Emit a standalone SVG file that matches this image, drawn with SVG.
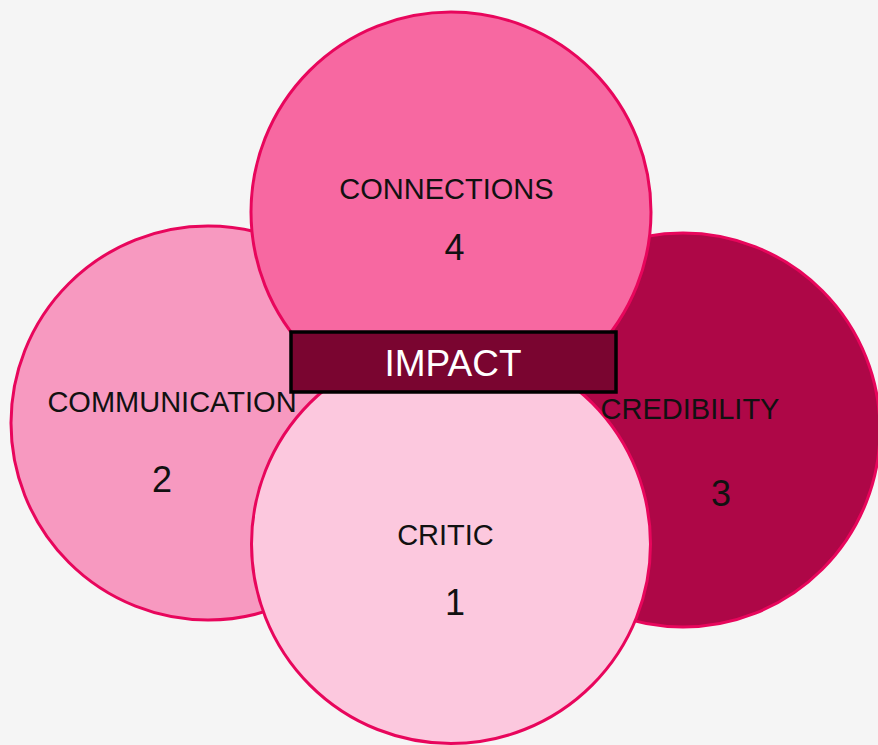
<svg xmlns="http://www.w3.org/2000/svg" width="878" height="745" viewBox="0 0 878 745">
  <style>
    .c { stroke: #e8065c; stroke-width: 3; }
    .lbl { font-family: "Liberation Sans", Arial, sans-serif; font-size: 29px; fill: #111; text-anchor: middle; }
    .num { font-family: "Liberation Sans", Arial, sans-serif; font-size: 36px; fill: #111; text-anchor: middle; }
  </style>
  <rect x="0" y="0" width="878" height="745" fill="#f5f5f5"/>
  <g id="communication">
    <circle class="c" cx="208" cy="423" r="197" fill="#f799c0"/>
  </g>
  <g id="credibility">
    <circle class="c" cx="683" cy="430" r="197" fill="#ae0747"/>
  </g>
  <g id="connections">
    <circle class="c" cx="451" cy="212" r="200" fill="#f768a1"/>
  </g>
  <g id="critic">
    <circle class="c" cx="451" cy="544" r="199.5" fill="#fcc8de"/>
  </g>
  <g id="labels">
    <text class="lbl" x="172" y="412">COMMUNICATION</text>
    <text class="num" x="162" y="492">2</text>
    <text class="lbl" x="690" y="419">CREDIBILITY</text>
    <text class="num" x="721" y="506">3</text>
    <text class="lbl" x="446.5" y="199">CONNECTIONS</text>
    <text class="num" x="454.5" y="260">4</text>
    <text class="lbl" x="445.5" y="545">CRITIC</text>
    <text class="num" x="455" y="615">1</text>
  </g>
  <g id="impact">
    <rect x="291" y="332" width="325" height="60" fill="#7a0530" stroke="#000" stroke-width="3.5"/>
    <text x="453" y="376" font-family="Liberation Sans, Arial, sans-serif" font-size="37" fill="#fff" text-anchor="middle">IMPACT</text>
  </g>
  <g id="connectors"/>
</svg>
